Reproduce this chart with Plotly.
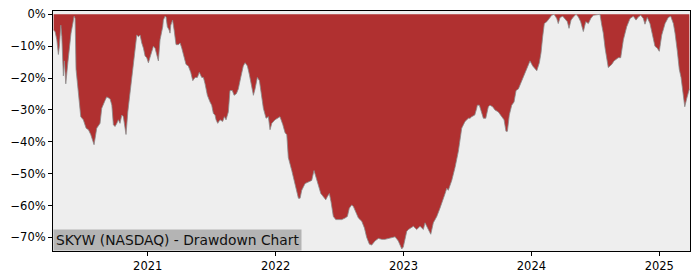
import plotly.graph_objects as go

# Drawdown series (time in decimal years, drawdown in %)
years = [
    2020.264, 2020.275, 2020.289, 2020.301, 2020.309, 2020.320, 2020.328, 2020.340, 2020.348, 2020.359,
    2020.375, 2020.387, 2020.400, 2020.414, 2020.424, 2020.432, 2020.439, 2020.457, 2020.476, 2020.496,
    2020.518, 2020.536, 2020.554, 2020.580, 2020.601, 2020.627, 2020.640, 2020.666, 2020.679, 2020.705,
    2020.719, 2020.731, 2020.744, 2020.758, 2020.770, 2020.783, 2020.797, 2020.809, 2020.823, 2020.830,
    2020.844, 2020.856, 2020.875, 2020.887, 2020.901, 2020.914, 2020.927, 2020.940, 2020.953, 2020.966,
    2020.979, 2020.992, 2021.005, 2021.018, 2021.031, 2021.044, 2021.057, 2021.070, 2021.083, 2021.096,
    2021.109, 2021.117, 2021.122, 2021.135, 2021.143, 2021.153, 2021.167, 2021.174, 2021.180, 2021.194,
    2021.206, 2021.221, 2021.239, 2021.253, 2021.266, 2021.278, 2021.299, 2021.317, 2021.336, 2021.352,
    2021.370, 2021.388, 2021.403, 2021.422, 2021.435, 2021.448, 2021.466, 2021.487, 2021.500, 2021.513,
    2021.526, 2021.534, 2021.547, 2021.565, 2021.586, 2021.599, 2021.612, 2021.630, 2021.643, 2021.661,
    2021.675, 2021.693, 2021.708, 2021.727, 2021.747, 2021.761, 2021.779, 2021.794, 2021.813, 2021.826,
    2021.839, 2021.857, 2021.873, 2021.886, 2021.904, 2021.925, 2021.943, 2021.956, 2021.970, 2021.995,
    2022.021, 2022.034, 2022.056, 2022.074, 2022.087, 2022.099, 2022.126, 2022.144, 2022.165, 2022.178,
    2022.191, 2022.204, 2022.230, 2022.256, 2022.282, 2022.300, 2022.316, 2022.334, 2022.353, 2022.373,
    2022.392, 2022.404, 2022.420, 2022.433, 2022.451, 2022.470, 2022.490, 2022.517, 2022.543, 2022.561,
    2022.576, 2022.595, 2022.608, 2022.629, 2022.647, 2022.673, 2022.694, 2022.712, 2022.733, 2022.751,
    2022.777, 2022.803, 2022.830, 2022.855, 2022.881, 2022.908, 2022.934, 2022.949, 2022.959, 2022.973,
    2022.986, 2022.998, 2023.012, 2023.025, 2023.038, 2023.059, 2023.077, 2023.103, 2023.129, 2023.155,
    2023.168, 2023.194, 2023.213, 2023.233, 2023.260, 2023.285, 2023.311, 2023.325, 2023.338, 2023.350,
    2023.364, 2023.377, 2023.403, 2023.429, 2023.455, 2023.481, 2023.507, 2023.520, 2023.533, 2023.557,
    2023.572, 2023.577, 2023.593, 2023.611, 2023.624, 2023.643, 2023.663, 2023.676, 2023.697, 2023.715,
    2023.741, 2023.768, 2023.786, 2023.801, 2023.812, 2023.827, 2023.846, 2023.864, 2023.880, 2023.898,
    2023.924, 2023.950, 2023.968, 2023.989, 2024.010, 2024.028, 2024.042, 2024.062, 2024.075, 2024.088,
    2024.101, 2024.120, 2024.140, 2024.159, 2024.177, 2024.198, 2024.210, 2024.224, 2024.245, 2024.263,
    2024.281, 2024.294, 2024.310, 2024.328, 2024.349, 2024.367, 2024.385, 2024.406, 2024.425, 2024.445,
    2024.464, 2024.484, 2024.511, 2024.536, 2024.550, 2024.562, 2024.576, 2024.589, 2024.601, 2024.628,
    2024.646, 2024.679, 2024.698, 2024.719, 2024.745, 2024.771, 2024.797, 2024.818, 2024.836, 2024.855,
    2024.875, 2024.888, 2024.906, 2024.927, 2024.948, 2024.966, 2024.984, 2025.000, 2025.019, 2025.045,
    2025.070, 2025.089, 2025.110, 2025.123, 2025.141, 2025.156, 2025.170, 2025.188, 2025.199, 2025.214,
    2025.227, 2025.235,
]

drawdown_pct = [
    -5.0, -5.4, -8.0, -12.6, -10.0, -3.4, -7.0, -19.3, -14.6, -21.8,
    -15.2, -10.0, -5.9, -2.9, -0.6, -1.3, -17.2, -24.4, -32.1, -33.1,
    -35.7, -36.2, -37.7, -40.9, -35.7, -34.2, -29.5, -27.0, -25.9, -26.5,
    -28.5, -34.6, -35.2, -34.2, -33.1, -34.2, -31.6, -32.1, -37.2, -37.7,
    -30.6, -26.5, -20.3, -16.2, -11.1, -6.5, -7.0, -6.5, -9.0, -10.6,
    -13.1, -13.6, -15.2, -13.6, -11.6, -10.0, -10.6, -13.1, -14.6, -8.0,
    -5.9, -3.9, -1.8, -0.6, -0.8, -3.9, -4.9, -5.9, -3.4, -1.8,
    -4.9, -9.5, -9.5, -9.0, -10.6, -12.6, -15.7, -16.2, -18.2, -20.8,
    -19.8, -19.8, -18.2, -19.8, -19.8, -21.8, -25.4, -27.5, -28.5, -31.1,
    -31.6, -33.1, -34.2, -33.1, -33.6, -32.1, -33.1, -30.6, -23.9, -23.9,
    -25.4, -24.9, -23.4, -19.8, -16.2, -15.2, -16.2, -18.8, -22.3, -25.4,
    -23.4, -19.8, -20.8, -24.9, -29.5, -32.6, -32.1, -36.2, -34.2, -33.1,
    -32.6, -32.1, -34.6, -37.2, -37.7, -44.9, -49.0, -52.1, -55.2, -57.7,
    -57.7, -55.2, -53.1, -52.6, -52.1, -49.0, -51.1, -53.6, -56.2, -57.2,
    -58.2, -57.2, -56.2, -58.8, -63.4, -64.4, -64.4, -64.4, -63.9, -63.4,
    -60.8, -59.8, -60.3, -62.3, -63.9, -64.9, -67.0, -70.0, -72.1, -72.4,
    -71.1, -70.3, -70.6, -70.6, -70.3, -70.0, -69.8, -70.6, -71.1, -72.4,
    -73.6, -73.0, -70.6, -68.1, -67.5, -67.0, -66.5, -67.5, -66.5, -67.5,
    -65.4, -67.5, -69.0, -65.4, -63.4, -60.8, -58.2, -56.2, -54.6, -55.2,
    -53.6, -52.1, -48.0, -42.9, -35.7, -33.6, -32.6, -32.6, -32.1, -31.6,
    -29.5, -28.5, -28.5, -30.6, -32.6, -32.6, -29.0, -28.5, -29.0, -30.0,
    -30.6, -32.1, -33.1, -36.7, -36.7, -31.6, -28.5, -27.5, -23.9, -23.4,
    -20.8, -18.8, -16.7, -14.6, -16.2, -17.2, -17.7, -15.2, -12.1, -7.0,
    -2.9, -2.3, -1.3, -0.3, 0.0, -1.3, -2.9, -1.0, -0.6, -1.3,
    -2.3, -4.4, -1.8, -0.8, 0.0, -0.8, -2.3, -5.4, -2.3, -2.9,
    -1.3, -0.3, -0.2, 0.0, -3.4, -5.9, -10.6, -13.6, -16.7, -15.7,
    -14.6, -13.6, -13.6, -8.0, -3.9, -1.3, -0.6, -1.8, -0.8, -0.3,
    -1.3, -3.1, -1.0, -2.9, -7.0, -10.0, -10.6, -11.6, -6.5, -2.9,
    -1.0, -0.6, -2.9, -5.9, -11.6, -17.2, -19.8, -26.5, -29.0, -26.5,
    -23.9, -23.4,
]

y_tick_vals = [0, -10, -20, -30, -40, -50, -60, -70]
y_tick_text = ["0%", "\u221210%", "\u221220%", "\u221230%", "\u221240%", "\u221250%", "\u221260%", "\u221270%"]
x_tick_vals = [2021, 2022, 2023, 2024, 2025]
x_tick_text = ["2021", "2022", "2023", "2024", "2025"]
label_text = "SKYW (NASDAQ) - Drawdown Chart"

fig = go.Figure()
fig.add_trace(go.Scatter(
    x=years, y=drawdown_pct, mode="lines",
    fill="tozeroy", fillcolor="#B03030",
    line=dict(color="#8a8a8a", width=0.8),
    hoverinfo="skip", showlegend=False,
))

font_family = "DejaVu Sans"
fig.update_layout(
    width=700, height=280,
    margin=dict(l=53, r=10, t=7, b=28),
    paper_bgcolor="white", plot_bgcolor="#EEEEEE",
    font=dict(family=font_family, size=11.5, color="black"),
    xaxis=dict(
        range=[2020.259, 2025.240], tickvals=x_tick_vals, ticktext=x_tick_text,
        showgrid=False, zeroline=False, ticks="outside", ticklen=4, tickwidth=1,
        tickcolor="black", showline=True, linecolor="black", linewidth=1, mirror=True,
    ),
    yaxis=dict(
        range=[-74.25, 1.05], tickvals=y_tick_vals, ticktext=y_tick_text,
        showgrid=False, zeroline=False, ticks="outside", ticklen=4, tickwidth=1,
        tickcolor="black", showline=True, linecolor="black", linewidth=1, mirror=True,
    ),
    annotations=[dict(
        text=label_text, xref="paper", yref="paper", x=0, y=0,
        xanchor="left", yanchor="bottom", showarrow=False,
        bgcolor="#B4B4B4", borderpad=2,
        font=dict(family=font_family, size=13.8, color="#111111"),
    )],
)

fig.write_html("out.html")
